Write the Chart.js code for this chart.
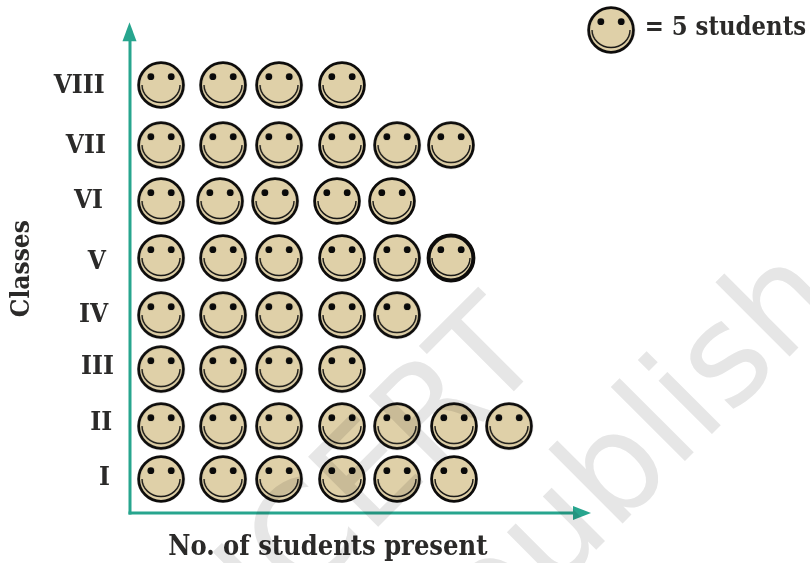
<!DOCTYPE html>
<html><head><meta charset="utf-8">
<style>html,body{margin:0;padding:0;background:#fff}canvas{display:block}</style>
<script src="https://cdn.jsdelivr.net/npm/chart.js@4/dist/chart.umd.min.js"></script>
</head><body><canvas id="c" width="810" height="563"></canvas>
<script>
// Classes, bottom to top
const classes = ['I','II','III','IV','V','VI','VII','VIII'];
// Where each row sits on the Classes axis
const rowPosition = [0.604,1.545,2.557,3.516,4.529,5.541,6.535,7.601];
const labelRow = [0.625,1.585,2.595,3.515,4.455,5.545,6.52,7.585];
const labelEnd = [-1.75,-1.55,-1.40,-1.90,-2.10,-2.35,-2.10,-2.20];
// Icon centres on the students axis
const iconsI    = [2.70,8.09,12.96,18.43,23.22,28.17];
const iconsII   = [2.70,8.09,12.96,18.43,23.22,28.17,32.96];
const iconsIII  = [2.70,8.09,12.96,18.43];
const iconsIV   = [2.70,8.09,12.96,18.43,23.22];
const iconsV    = [2.70,8.09,12.96,18.43,23.22,27.91];
const iconsVI   = [2.70,7.83,12.61,18.00,22.78];
const iconsVII  = [2.70,8.09,12.96,18.43,23.22,27.91];
const iconsVIII = [2.70,8.09,12.96,18.43];
const rows = [iconsI,iconsII,iconsIII,iconsIV,iconsV,iconsVI,iconsVII,iconsVIII];
const keyPoint = [{x:41.83,y:8.578}];
const keyText = '= 5 students';
const xTitle = 'No. of students present';
const yTitle = 'Classes';

function face(outline){
  const s=52, c=document.createElement('canvas'); c.width=c.height=s;
  const g=c.getContext('2d'), m=s/2;
  g.beginPath(); g.arc(m,m,22.4,0,Math.PI*2);
  g.fillStyle='#dfd0a8'; g.fill();
  g.lineWidth=outline; g.strokeStyle='#0d0c0b'; g.stroke();
  g.fillStyle='#0a0a0a';
  [-10.2,10.2].forEach(d=>{g.beginPath();g.arc(m+d,m-8.3,3.4,0,Math.PI*2);g.fill();});
  g.beginPath(); g.ellipse(m,m,19,17.5,0,0,Math.PI);
  g.lineWidth=1.4; g.strokeStyle='#1b1a18'; g.stroke();
  return c;
}
const plainFace=face(2.8), boldFace=face(4);

const datasets = classes.map((name,i)=>({
  label:name,
  data:rows[i].map(x=>({x,y:rowPosition[i]})),
  pointStyle:rows[i].map((x,j)=> name==='V'&&j===rows[i].length-1 ? boldFace : plainFace),
  pointRadius:24, showLine:false, clip:false
}));
datasets.push({label:keyText,data:keyPoint,pointStyle:plainFace,pointRadius:24,showLine:false,clip:false});

const FONT='"DejaVu Serif Condensed","DejaVu Serif",serif';
const ink='#2b2a29', teal='#27a58e';

const decor={
  id:'decor',
  beforeDatasetsDraw(chart){
    const {ctx,scales:{x,y}}=chart, x0=x.getPixelForValue(0), y0=y.getPixelForValue(0);
    const xe=x.getPixelForValue(40), ye=y.getPixelForValue(8.66);
    ctx.save();
    ctx.strokeStyle=teal; ctx.fillStyle=teal; ctx.lineWidth=3;
    ctx.beginPath(); ctx.moveTo(x0,y0+1.5); ctx.lineTo(x0,ye+14); ctx.stroke();
    ctx.beginPath(); ctx.moveTo(x0-1.5,y0); ctx.lineTo(xe-14,y0); ctx.stroke();
    ctx.beginPath(); ctx.moveTo(x0-.5,ye-3); ctx.lineTo(x0-7.5,ye+16); ctx.lineTo(x0+6.5,ye+16); ctx.closePath(); ctx.fill();
    ctx.beginPath(); ctx.moveTo(xe+1,y0); ctx.lineTo(xe-17,y0-7); ctx.lineTo(xe-17,y0+7); ctx.closePath(); ctx.fill();
    ctx.fillStyle=ink; ctx.font='bold 26px '+FONT; ctx.textBaseline='middle';
    ctx.textAlign='right';
    classes.forEach((n,i)=>ctx.fillText(n,x.getPixelForValue(labelEnd[i]),y.getPixelForValue(labelRow[i])));
    ctx.textAlign='center';
    ctx.save(); ctx.translate(x.getPixelForValue(-9.4),y.getPixelForValue(4.34)); ctx.rotate(-Math.PI/2);
    ctx.fillText(yTitle,0,0); ctx.restore();
    ctx.font='bold 27px '+FONT;
    ctx.fillText(xTitle,x.getPixelForValue(17.2),y.getPixelForValue(-0.625));
    ctx.font='bold 25.4px '+FONT;
    ctx.textAlign='left';
    ctx.fillText(keyText,x.getPixelForValue(44.75),y.getPixelForValue(8.60));
    ctx.restore();
  },
  afterDatasetsDraw(chart){
    const {ctx}=chart;
    ctx.save();
    ctx.globalCompositeOperation='multiply';
    ctx.fillStyle='#e6e6e6'; ctx.font='136px "DejaVu Sans",sans-serif'; ctx.textBaseline='alphabetic'; ctx.textAlign='right';
    ctx.translate(548,357); ctx.rotate(-Math.PI/4); ctx.fillText('NCERT',0,0);
    ctx.restore();
    ctx.save();
    ctx.globalCompositeOperation='multiply';
    ctx.fillStyle='#e6e6e6'; ctx.font='138px "DejaVu Sans",sans-serif'; ctx.textBaseline='alphabetic'; ctx.textAlign='left';
    ctx.translate(392,754); ctx.rotate(-Math.PI/4); ctx.fillText('republish',0,0);
    ctx.restore();
  }
};

new Chart(document.getElementById('c'),{
  type:'scatter',
  data:{datasets},
  options:{
    responsive:false, animation:false,
    layout:{padding:0,autoPadding:false},
    plugins:{legend:{display:false},tooltip:{enabled:false}},
    scales:{
      x:{type:'linear',display:false,min:-130/11.5,max:680/11.5},
      y:{type:'linear',display:false,min:-50/56.31,max:513/56.31}
    }
  },
  plugins:[decor]
});
</script></body></html>
